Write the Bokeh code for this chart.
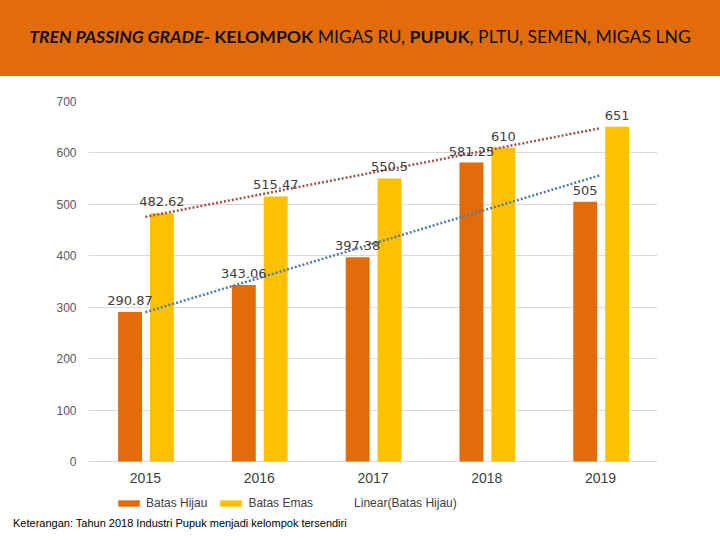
import numpy as np
from bokeh.plotting import figure
from bokeh.models import ColumnDataSource, FactorRange, Legend, LegendItem, Div, FixedTicker, LabelSet
from bokeh.transform import dodge
from bokeh.layouts import column
from bokeh.embed import file_html
from bokeh.resources import INLINE
from bokeh.core.properties import value

years = ["2015", "2016", "2017", "2018", "2019"]
batas_hijau = [290.87, 343.06, 397.38, 581.25, 505]
batas_emas = [482.62, 515.47, 550.5, 610, 651]
hijau_labels = ["290.87", "343.06", "397.38", "581.25", "505"]
emas_labels = ["482.62", "515.47", "550.5", "610", "651"]
y_ticks = [0, 100, 200, 300, 400, 500, 600, 700]

ORANGE = "#E36C0A"
YELLOW = "#FFC000"

src = ColumnDataSource(dict(years=years, hijau=batas_hijau, emas=batas_emas,
                            hl=hijau_labels, el=emas_labels, base=[0] * len(years)))

# the frame reaches below 0 so that the year labels and the legend sit inside it
p = figure(x_range=FactorRange(*years, range_padding=0), y_range=(-99.2, 700),
           width=720, height=436, output_backend="svg", toolbar_location=None,
           min_border_left=88, min_border_right=63, min_border_top=25, min_border_bottom=0)
p.outline_line_color = None
p.background_fill_color = "white"
p.border_fill_color = "white"

r1 = p.vbar(x=dodge("years", -0.135, range=p.x_range), top="hijau", width=0.21,
            source=src, color=ORANGE, line_color=None)
r2 = p.vbar(x=dodge("years", 0.145, range=p.x_range), top="emas", width=0.21,
            source=src, color=YELLOW, line_color=None)

# linear trend lines (least squares, as in the spreadsheet)
idx = np.arange(len(years))
kh = np.polyfit(idx, batas_hijau, 1)
ke = np.polyfit(idx, batas_emas, 1)
tx = [years[0], years[-1]]
p.line(x=tx, y=[np.polyval(ke, 0), np.polyval(ke, 4)], line_color="#A0504F",
       line_width=2.5, line_dash="2 2")
r3 = p.line(x=tx, y=[np.polyval(kh, 0), np.polyval(kh, 4)], line_color="#4F7BA8",
            line_width=2.5, line_dash="2 2")
dummy = p.line(x=[years[0]], y=[0], line_alpha=0)

lab_font = value("DejaVu Sans")
p.add_layout(LabelSet(x=dodge("years", -0.135, range=p.x_range), y="hijau", text="hl", source=src,
                      text_align="center", text_baseline="bottom", y_offset=7,
                      text_font=lab_font, text_font_size="13px", text_color="#404040"))
p.add_layout(LabelSet(x=dodge("years", 0.145, range=p.x_range), y="emas", text="el", source=src,
                      text_align="center", text_baseline="bottom", y_offset=7,
                      text_font=lab_font, text_font_size="13px", text_color="#404040"))
# category (year) labels under the zero line
p.add_layout(LabelSet(x="years", y="base", text="years", source=src,
                      text_align="center", text_baseline="top", y_offset=-12,
                      text_font=value("Liberation Sans"), text_font_size="14px", text_color="#404040"))

p.yaxis.ticker = FixedTicker(ticks=y_ticks)
p.yaxis.axis_line_color = None
p.yaxis.major_tick_line_color = None
p.yaxis.minor_tick_line_color = None
p.yaxis.major_label_text_font = "Liberation Sans"
p.yaxis.major_label_text_font_size = "12px"
p.yaxis.major_label_text_color = "#595959"
p.yaxis.major_label_standoff = 6
p.xaxis.visible = False
p.xgrid.grid_line_color = None
p.ygrid.ticker = FixedTicker(ticks=y_ticks)
p.ygrid.grid_line_color = "#D9D9D9"
p.ygrid.grid_line_width = 1

legend = Legend(items=[LegendItem(label="Batas Hijau", renderers=[r1]),
                       LegendItem(label="Batas Emas", renderers=[r2]),
                       LegendItem(label="Linear(Batas Hijau)", renderers=[dummy])],
                orientation="horizontal", location=(27, 2),
                glyph_width=27, glyph_height=8, spacing=10, label_standoff=4,
                label_text_font="Liberation Sans", label_text_font_size="12px",
                label_text_color="#404040", background_fill_alpha=0, border_line_color=None,
                padding=0, margin=0)
p.add_layout(legend, "center")

header = Div(text=(
    "<div style=\"width:720px;height:76px;background:#E36C0A;display:flex;align-items:center;"
    "justify-content:center;box-sizing:border-box;padding-bottom:2px;font-family:'Lato';"
    "font-size:17.6px;color:#111;white-space:nowrap;\">"
    "<span><b><i>TREN PASSING GRADE</i>- KELOMPOK</b> MIGAS RU, <b>PUPUK</b>, PLTU, SEMEN, MIGAS LNG</span></div>"),
    width=720, height=76, margin=0)

foot = Div(text=(
    "<div style=\"width:720px;height:28px;font-family:'Liberation Sans';font-size:11px;color:#000;"
    "padding-left:13px;box-sizing:border-box;line-height:23px;white-space:nowrap;\">"
    "Keterangan: Tahun 2018 Industri Pupuk menjadi kelompok tersendiri</div>"),
    width=720, height=28, margin=0)

layout = column(header, p, foot, spacing=0)
open("out.html", "w").write(file_html(layout, INLINE))
